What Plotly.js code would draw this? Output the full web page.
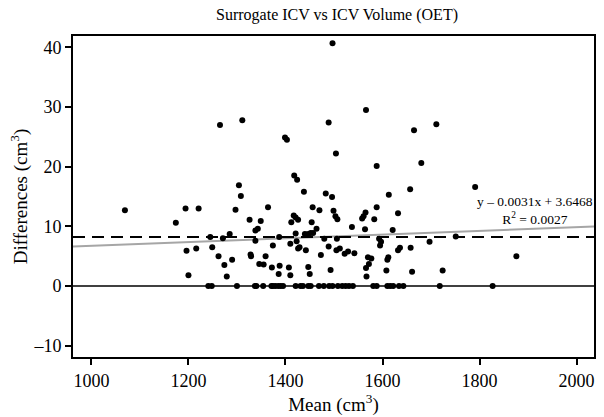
<!DOCTYPE html>
<html>
<head>
<meta charset="utf-8">
<script src="https://cdn.plot.ly/plotly-3.0.1.min.js"></script>
<style>html,body{margin:0;padding:0;background:#fff;}#chart{width:604px;height:417px;}</style>
</head>
<body>
<div id="chart"></div>
<script>
// Mean (cm3) of each subject
const meanX = [
  1069,1174,1194,1221,1196,1216,1200,1245,1249,1262,1271,1285,1274,1279,1290,
  1265,1311,1304,1308,1297,1326,1338,1343,1338,1328,1329,1346,1355,1349,1364,
  1359,1374,1372,1388,1386,1387,1407,1410,1410,1399,1403,1418,1424,1412,1417,
  1421,1426,1421,1423,1426,1429,1438,1440,1447,1452,1457,1464,1454,1456,1470,
  1442,1447,1450,1473,1480,1483,1496,1489,1497,1489,1493,1499,1503,1507,1506,
  1505,1512,1504,1522,1529,1542,1537,1558,1561,1565,1564,1566,1570,1577,1566,
  1572,1567,1588,1583,1588,1593,1597,1595,1613,1632,1621,1612,1610,1608,1632,
  1636,1657,1658,1661,1665,1680,1697,1711,1724,1751,1791,1876
];
// Difference (cm3) of each subject
const diffY = [
  12.7,10.6,13.0,13.0,5.9,6.3,1.8,8.2,6.5,5.0,8.0,8.7,3.5,1.6,4.4,
  27.0,27.8,16.9,15.1,12.8,11.1,9.3,9.6,7.6,5.3,5.0,3.7,3.6,10.9,13.2,
  5.0,6.8,3.1,3.4,2.0,8.2,3.1,1.8,7.1,24.9,24.5,18.5,17.8,10.7,11.8,
  11.5,11.1,8.8,7.5,6.3,6.5,15.8,8.7,8.7,8.9,8.9,9.6,10.7,13.2,12.7,
  6.0,3.2,2.0,5.2,7.9,15.5,14.9,27.4,40.7,6.6,2.7,12.6,11.7,11.2,7.9,
  6.0,6.3,22.2,5.4,5.8,5.5,9.9,11.3,11.7,12.3,9.5,29.5,4.8,4.6,3.0,
  3.7,1.6,13.2,11.2,20.1,7.9,7.4,6.8,15.3,12.2,9.4,4.8,4.4,2.6,6.0,
  6.4,16.2,6.4,2.4,26.1,20.6,7.4,27.1,2.6,8.3,16.6,5.0
];
// Subjects with zero difference
const zeroMeanX = [
  1241,1248,1300,1337,1340,1354,1371,1374,1379,1385,1390,1395,1421,1431,1436,
  1447,1452,1469,1479,1490,1497,1508,1517,1524,1531,1539,1581,1588,1610,1616,
  1622,1634,1643,1718,1827
];
const zeroDiffY = zeroMeanX.map(() => 0);

const meanDiff = 8.2;
const slope = 0.0031;
const intercept = 3.6468;
const xRange = [962, 2036];
const yRange = [-11.9, 41.9];
const xTicks = [1000,1200,1400,1600,1800,2000];
const yTicks = [-10,0,10,20,30,40];

const serif = "Liberation Serif, Times New Roman, serif";

const traces = [
  {x: xRange, y: [0,0], mode:'lines', line:{color:'#000', width:1.6}, hoverinfo:'skip'},
  {x: xRange, y: xRange.map(v => slope*v + intercept), mode:'lines', line:{color:'#a6a6a6', width:2}, hoverinfo:'skip'},
  {x: xRange, y: [meanDiff, meanDiff], mode:'lines', line:{color:'#000', width:2, dash:'12px,7px'}, hoverinfo:'skip'},
  {x: meanX.concat(zeroMeanX), y: diffY.concat(zeroDiffY), mode:'markers', marker:{color:'#000', size:6}}
];

const axisCommon = {
  showline:true, linecolor:'#000', linewidth:2, mirror:true,
  ticks:'outside', ticklen:6, tickwidth:2, tickcolor:'#000',
  showgrid:false, zeroline:false,
  tickfont:{family:serif, size:18, color:'#000'}
};

const layout = {
  width:604, height:417,
  margin:{l:73, r:10, t:36, b:60},
  paper_bgcolor:'#fff', plot_bgcolor:'#fff',
  showlegend:false,
  font:{family:serif, color:'#000'},
  title:{text:'Surrogate ICV vs ICV Volume (OET)', font:{family:serif, size:16, color:'#000'}, x:0.558, xanchor:'center', y:0.965, yanchor:'middle'},
  xaxis: Object.assign({}, axisCommon, {
    range:xRange, tickvals:xTicks, ticktext:xTicks.map(String),
    title:{text:'Mean (cm<sup>3</sup>)', font:{family:serif, size:19, color:'#000'}, standoff:1}
  }),
  yaxis: Object.assign({}, axisCommon, {
    range:yRange, tickvals:yTicks, ticktext:yTicks.map(v => v<0 ? '\u2013'+Math.abs(v) : String(v)),
    title:{text:'Differences (cm<sup>3</sup>)', font:{family:serif, size:19, color:'#000'}, standoff:1}
  }),
  annotations:[
    {x:1914, y:12.6, xref:'x', yref:'y', text:'y \u2013 0.0031x + 3.6468<br>R<sup>2</sup> = 0.0027', showarrow:false, align:'center', xanchor:'center', yanchor:'middle', font:{family:serif, size:13.5, color:'#000'}}
  ]
};

Plotly.newPlot('chart', traces, layout, {displayModeBar:false, staticPlot:true});
</script>
</body>
</html>
